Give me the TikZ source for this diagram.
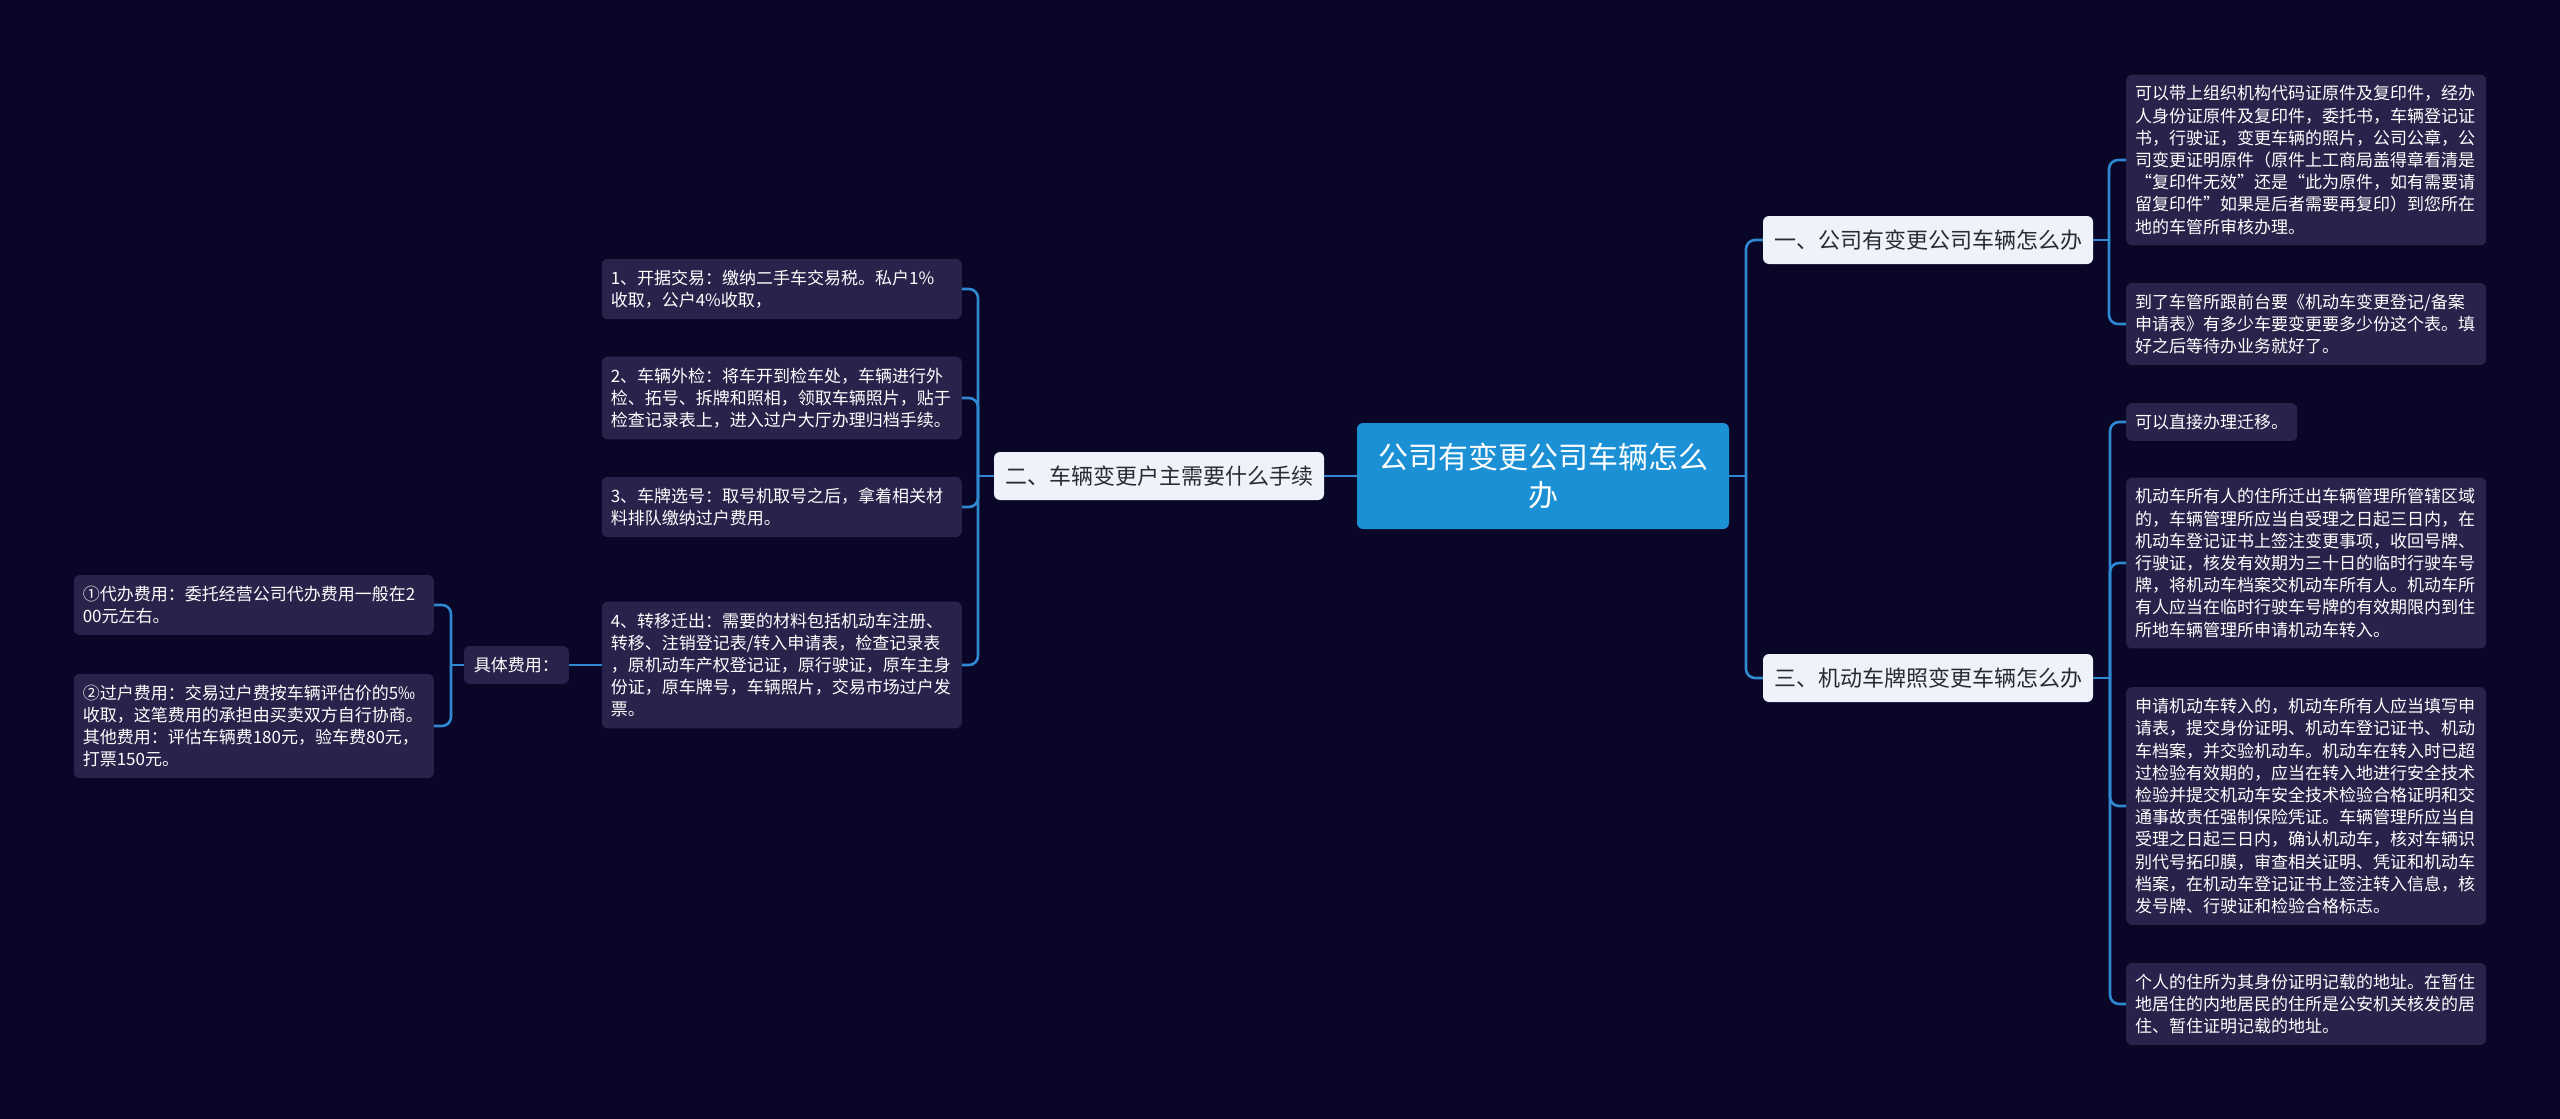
\documentclass[tikz,border=0pt]{standalone}
\usepackage{fontspec}
\setmainfont{Noto Sans CJK SC}
\usetikzlibrary{positioning}
\definecolor{bgcol}{HTML}{0A0628}
\definecolor{leafcol}{HTML}{27234A}
\definecolor{linecol}{HTML}{2E88D2}
\definecolor{rootcol}{HTML}{1B90D4}
\definecolor{topiccol}{HTML}{EEF2FA}
\definecolor{topictext}{HTML}{2A2A33}

\begin{document}
\begin{tikzpicture}[x=1pt, y=-1pt,
    link/.style={draw=linecol, line width=2.6pt},
    fork/.style={link, rounded corners=9pt},
    rootbox/.style={fill=rootcol, rounded corners=6pt, text=white, align=center,
      font=\fontsize{30}{38}\selectfont, minimum width=372pt, minimum height=106pt},
    topic/.style={fill=topiccol, rounded corners=6pt, text=topictext,
      font=\fontsize{22}{26}\selectfont, minimum width=330pt, minimum height=48pt, inner xsep=0pt},
    note/.style={fill=leafcol, rounded corners=6pt, text=white, align=left,
      font=\fontsize{17}{22.2}\selectfont, inner xsep=9pt, inner ysep=11pt},
    leaf/.style={note, text width=342pt}]
        \fill[bgcol] (0,0) rectangle (2560,1119);
        \useasboundingbox (0,0) rectangle (2560,1119);
        \node[rootbox] (root) at (1543,476) {公司有变更公司车辆怎么\\办};
        \node[topic] (t1) at (1928,240) {一、公司有变更公司车辆怎么办};
        \node[topic] (t2) at (1159,476) {二、车辆变更户主需要什么手续};
        \node[topic] (t3) at (1928,678) {三、机动车牌照变更车辆怎么办};
        \node[leaf, anchor=west] (r1a) at (2126,160) {可以带上组织机构代码证原件及复印件，经办\\人身份证原件及复印件，委托书，车辆登记证\\书，行驶证，变更车辆的照片，公司公章，公\\司变更证明原件（原件上工商局盖得章看清是\\“复印件无效”还是“此为原件，如有需要请\\留复印件”如果是后者需要再复印）到您所在\\地的车管所审核办理。};
        \node[leaf, anchor=west] (r1b) at (2126,324) {到了车管所跟前台要《机动车变更登记/备案\\申请表》有多少车要变更要多少份这个表。填\\好之后等待办业务就好了。};
        \node[note, anchor=west] (r3a) at (2126,422) {可以直接办理迁移。};
        \node[leaf, anchor=west] (r3b) at (2126,563) {机动车所有人的住所迁出车辆管理所管辖区域\\的，车辆管理所应当自受理之日起三日内，在\\机动车登记证书上签注变更事项，收回号牌、\\行驶证，核发有效期为三十日的临时行驶车号\\牌，将机动车档案交机动车所有人。机动车所\\有人应当在临时行驶车号牌的有效期限内到住\\所地车辆管理所申请机动车转入。};
        \node[leaf, anchor=west] (r3c) at (2126,806) {申请机动车转入的，机动车所有人应当填写申\\请表，提交身份证明、机动车登记证书、机动\\车档案，并交验机动车。机动车在转入时已超\\过检验有效期的，应当在转入地进行安全技术\\检验并提交机动车安全技术检验合格证明和交\\通事故责任强制保险凭证。车辆管理所应当自\\受理之日起三日内，确认机动车，核对车辆识\\别代号拓印膜，审查相关证明、凭证和机动车\\档案，在机动车登记证书上签注转入信息，核\\发号牌、行驶证和检验合格标志。};
        \node[leaf, anchor=west] (r3d) at (2126,1004) {个人的住所为其身份证明记载的地址。在暂住\\地居住的内地居民的住所是公安机关核发的居\\住、暂住证明记载的地址。};
        \node[leaf, anchor=east] (l1) at (962,289) {1、开据交易：缴纳二手车交易税。私户1\%\\收取，公户4\%收取，};
        \node[leaf, anchor=east] (l2) at (962,398) {2、车辆外检：将车开到检车处，车辆进行外\\检、拓号、拆牌和照相，领取车辆照片，贴于\\检查记录表上，进入过户大厅办理归档手续。};
        \node[leaf, anchor=east] (l3) at (962,507) {3、车牌选号：取号机取号之后，拿着相关材\\料排队缴纳过户费用。};
        \node[leaf, anchor=east] (l4) at (962,665) {4、转移迁出：需要的材料包括机动车注册、\\转移、注销登记表/转入申请表，检查记录表\\，原机动车产权登记证，原行驶证，原车主身\\份证，原车牌号，车辆照片，交易市场过户发\\票。};
        \node[note, anchor=east, inner xsep=10pt] (fee) at (569,665) {具体费用：};
        \node[leaf, anchor=east] (f1) at (434,605) {①代办费用：委托经营公司代办费用一般在2\\00元左右。};
        \node[leaf, anchor=east] (f2) at (434,726) {②过户费用：交易过户费按车辆评估价的5‰\\收取，这笔费用的承担由买卖双方自行协商。\\其他费用：评估车辆费180元，验车费80元，\\打票150元。};
        \coordinate (rj) at (1746,476);
        \coordinate (t1j) at (2109,240);
        \coordinate (t3j) at (2110,678);
        \coordinate (t2j) at (978,476);
        \coordinate (feej) at (451,665);
        \draw[link] (root.east) -- (rj);
        \draw[fork] (rj) |- (t1.west);
        \draw[fork] (rj) |- (t3.west);
        \draw[link] (t1.east) -- (t1j);
        \draw[fork] (t1j) |- (r1a.west);
        \draw[fork] (t1j) |- (r1b.west);
        \draw[link] (t3.east) -- (t3j);
        \draw[fork] (t3j) |- (r3a.west);
        \draw[fork] (t3j) |- (r3b.west);
        \draw[fork] (t3j) |- (r3c.west);
        \draw[fork] (t3j) |- (r3d.west);
        \draw[link] (root.west) -- (t2.east);
        \draw[fork] (t2.west) -- (t2j);
        \draw[fork] (t2j) |- (l1.east);
        \draw[fork] (t2j) |- (l2.east);
        \draw[fork] (t2j) |- (l3.east);
        \draw[fork] (t2j) |- (l4.east);
        \draw[link] (l4.west) -- (fee.east);
        \draw[link] (fee.west) -- (feej);
        \draw[fork] (feej) |- (f1.east);
        \draw[fork] (feej) |- (f2.east);
      \end{tikzpicture}
\end{document}
